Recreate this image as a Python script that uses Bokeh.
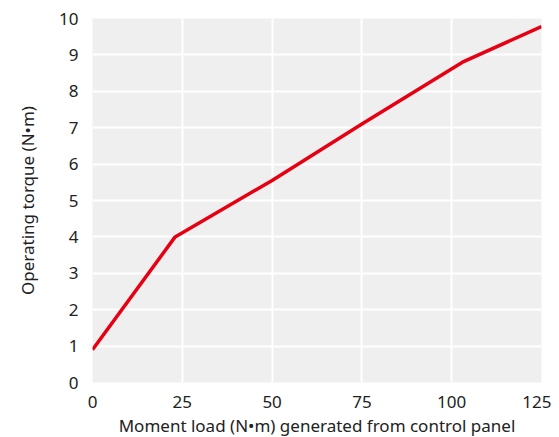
from bokeh.plotting import figure
from bokeh.models import Range1d, FixedTicker
from bokeh.embed import file_html
from bokeh.resources import INLINE

load = [0, 23, 50, 75, 103, 125]
torque = [0.9, 4.0, 5.55, 7.1, 8.8, 9.78]
x_ticks = [0, 25, 50, 75, 100, 125]
y_ticks = [0, 1, 2, 3, 4, 5, 6, 7, 8, 9, 10]

FONT = "Noto Sans"

p = figure(output_backend="svg", toolbar_location=None,
           frame_width=449, frame_height=364,
           x_range=Range1d(0, 125), y_range=Range1d(0, 10))
p.min_border_left = 92
p.min_border_right = 10
p.min_border_top = 18
p.min_border_bottom = 50
p.outline_line_color = None
p.background_fill_color = "#efefef"
p.border_fill_color = "white"

p.line(load, torque, line_color="#e60012", line_width=3.5)

for ax in (p.xaxis[0], p.yaxis[0]):
    ax.axis_line_color = None
    ax.major_tick_line_color = None
    ax.minor_tick_line_color = None
    ax.major_label_text_font = FONT
    ax.major_label_text_font_size = "17px"
    ax.major_label_text_color = "#222222"
    ax.axis_label_text_font = FONT
    ax.axis_label_text_font_size = "17px"
    ax.axis_label_text_font_style = "normal"
    ax.axis_label_text_color = "#222222"

p.xaxis.ticker = FixedTicker(ticks=x_ticks)
p.yaxis.ticker = FixedTicker(ticks=y_ticks)
p.xaxis.axis_label = "Moment load (N•m) generated from control panel"
p.yaxis.axis_label = "Operating torque (N•m)"
p.xaxis.major_label_standoff = 7
p.yaxis.major_label_standoff = 8
p.xaxis.axis_label_standoff = 3
p.yaxis.axis_label_standoff = 17

p.xgrid.ticker = FixedTicker(ticks=x_ticks)
p.ygrid.ticker = FixedTicker(ticks=y_ticks)
p.grid.grid_line_color = "white"
p.grid.grid_line_width = 2

open("out.html", "w").write(file_html(p, INLINE))
